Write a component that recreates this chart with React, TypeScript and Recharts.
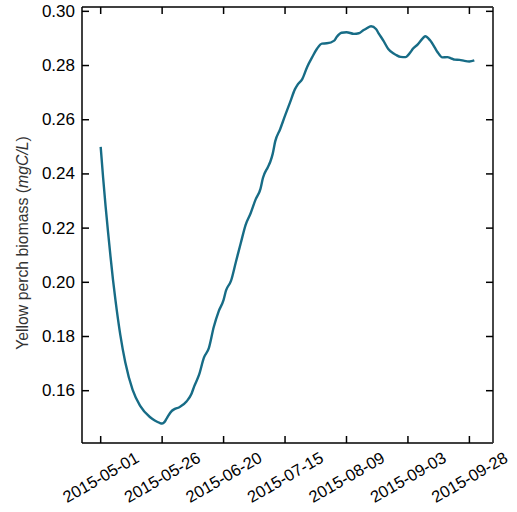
import { LineChart, Line, XAxis, YAxis } from 'recharts';

// Days since 2015-05-01 and modelled yellow perch biomass (mgC/L)
const days = [
  0, 1, 2, 3, 4, 5, 6, 8, 10, 13, 16, 20, 22, 24, 25, 26, 27, 29, 30, 32, 35, 37, 38, 40, 42,
  44, 46, 48, 50, 51, 53, 55, 57, 59, 61, 63, 65, 66, 68, 69, 70, 71, 73, 75, 77, 79, 80, 82,
  84, 86, 88, 90, 92, 95, 96, 98, 100, 103, 105, 107, 108, 110, 112, 113, 115, 117, 119, 120,
  122, 124, 126, 127, 129, 131, 132, 134, 136, 137, 139, 141, 143, 144, 146, 148, 150, 152,
];
const biomass = [
  0.25, 0.2385, 0.228, 0.2185, 0.2095, 0.201, 0.1935, 0.1805, 0.1705, 0.1603, 0.1545, 0.1503,
  0.149, 0.1481, 0.1479, 0.1485, 0.15, 0.1526, 0.1532, 0.1539, 0.1561, 0.159, 0.1615, 0.1658,
  0.1722, 0.1757, 0.1835, 0.1893, 0.1935, 0.197, 0.2005, 0.2075, 0.2145, 0.2213, 0.2255,
  0.2305, 0.2345, 0.2385, 0.2425, 0.2445, 0.2475, 0.252, 0.2565, 0.2615, 0.2663, 0.2712,
  0.2728, 0.275, 0.2795, 0.283, 0.2862, 0.2881, 0.2882, 0.2892, 0.2905, 0.2921, 0.2923,
  0.2917, 0.2919, 0.2931, 0.2936, 0.2945, 0.2935, 0.292, 0.2892, 0.2861, 0.2845, 0.284,
  0.2832, 0.2831, 0.2849, 0.2862, 0.2878, 0.29, 0.2908, 0.2893, 0.2865, 0.285, 0.283, 0.2831,
  0.2825, 0.2822, 0.2821, 0.2817, 0.2815, 0.2819,
];

const xTicks = [0, 25, 50, 75, 100, 125, 150];
const xTickLabels = [
  '2015-05-01', '2015-05-26', '2015-06-20', '2015-07-15', '2015-08-09', '2015-09-03', '2015-09-28',
];
const yTicks = [0.16, 0.18, 0.2, 0.22, 0.24, 0.26, 0.28, 0.3];

const data = days.map((d, i) => ({ day: d, biomass: biomass[i] }));

const W = 517;
const H = 512;
const LEFT = 82;
const RIGHT = 493;
const TOP = 7;
const BOTTOM = 443;
const TICK = 7;
const FONT = '"Liberation Sans", Arial, sans-serif';

const BottomTick = (props: any) => {
  const { x, index } = props;
  const cy = 477;
  return (
    <g>
      <line x1={x} x2={x} y1={BOTTOM} y2={BOTTOM - TICK} stroke="#000" strokeWidth={1.5} />
      <text
        x={x}
        y={cy}
        textAnchor="middle"
        dominantBaseline="central"
        fontSize={16.5}
        fontFamily={FONT}
        fill="#000"
        transform={`rotate(-30, ${x}, ${cy})`}
      >
        {xTickLabels[index]}
      </text>
    </g>
  );
};

const TopTick = (props: any) => (
  <line x1={props.x} x2={props.x} y1={TOP} y2={TOP + TICK} stroke="#000" strokeWidth={1.5} />
);

const LeftTick = (props: any) => {
  const { y, payload } = props;
  return (
    <g>
      <line x1={LEFT} x2={LEFT + TICK} y1={y} y2={y} stroke="#000" strokeWidth={1.5} />
      <text
        x={LEFT - 7}
        y={y}
        textAnchor="end"
        dominantBaseline="central"
        fontSize={17}
        fontFamily={FONT}
        fill="#000"
      >
        {payload.value.toFixed(2)}
      </text>
    </g>
  );
};

const RightTick = (props: any) => (
  <line x1={RIGHT} x2={RIGHT - TICK} y1={props.y} y2={props.y} stroke="#000" strokeWidth={1.5} />
);

const YLabel = () => {
  const cx = 22;
  const cy = 243;
  return (
    <text
      x={cx}
      y={cy}
      textAnchor="middle"
      dominantBaseline="central"
      fontSize={15.8}
      fontFamily={FONT}
      fill="#333"
      transform={`rotate(-90, ${cx}, ${cy})`}
    >
      Yellow perch biomass (<tspan fontStyle="italic">mgC/L</tspan>)
    </text>
  );
};

export default function App() {
  return (
    <div style={{ position: 'absolute', left: 0, top: 0, width: W, height: H, background: '#fff' }}>
      <LineChart
        width={W}
        height={H}
        data={data}
        margin={{ top: TOP - 1, right: W - RIGHT - 1, bottom: 0, left: 0 }}
      >
        <XAxis
          dataKey="day"
          type="number"
          domain={[-7.6, 159.6]}
          ticks={xTicks}
          tick={<BottomTick />}
          tickLine={false}
          axisLine={{ stroke: '#000', strokeWidth: 1.5 }}
          height={H - BOTTOM}
          interval={0}
          allowDataOverflow
        />
        <XAxis
          xAxisId="top"
          dataKey="day"
          type="number"
          orientation="top"
          domain={[-7.6, 159.6]}
          ticks={xTicks}
          tick={<TopTick />}
          tickLine={false}
          axisLine={{ stroke: '#000', strokeWidth: 1.5 }}
          height={1}
          interval={0}
          allowDataOverflow
        />
        <YAxis
          type="number"
          domain={[0.1407, 0.3016]}
          ticks={yTicks}
          tick={<LeftTick />}
          tickLine={false}
          axisLine={{ stroke: '#000', strokeWidth: 1.5 }}
          width={LEFT}
          interval={0}
          allowDataOverflow
        />
        <YAxis
          yAxisId="right"
          orientation="right"
          type="number"
          domain={[0.1407, 0.3016]}
          ticks={yTicks}
          tick={<RightTick />}
          tickLine={false}
          axisLine={{ stroke: '#333', strokeWidth: 1.8 }}
          width={1}
          interval={0}
          allowDataOverflow
        />
        <Line
          type="monotone"
          dataKey="biomass"
          stroke="#176c86"
          strokeWidth={2.4}
          dot={false}
          isAnimationActive={false}
        />
        <YLabel />
      </LineChart>
    </div>
  );
}
